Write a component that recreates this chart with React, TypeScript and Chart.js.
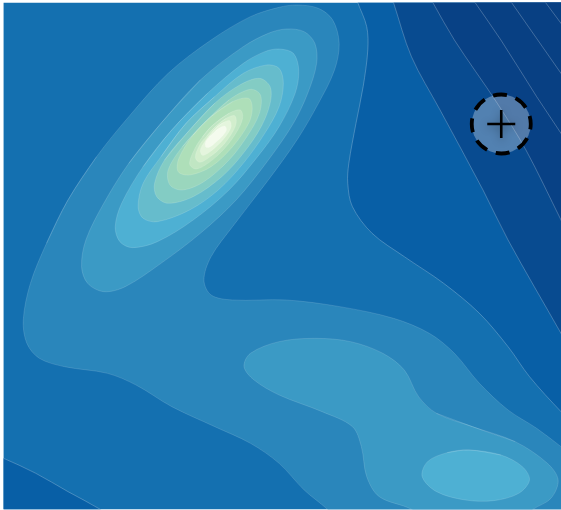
import React, { useEffect, useRef } from "react";
import { Chart, registerables } from "chart.js";

Chart.register(...registerables);

type P = [number, number];

const xRange: P = [10, 1568];
const yRange: P = [8, 1528];

const baseArea: P[] = [[-100, -100], [1800, -100], [1800, 1800], [-100, 1800]];
const cornerBL: P[] = [[-60, 1345], [10, 1375], [100, 1420], [190, 1475], [280, 1528], [350, 1580], [-100, 1800], [-60, 1345]];
const darkA: P[] = [[985, -40], [1000, 8], [1025, 80], [1028, 150], [1015, 260], [995, 370], [975, 490], [972, 550], [985, 620], [1040, 700], [1130, 770], [1240, 850], [1340, 940], [1420, 1040], [1480, 1130], [1568, 1235], [1640, 1310], [2400, 1500], [2400, -400], [985, -400], [985, -40]];
const darkB: P[] = [[1088, -30], [1100, 8], [1150, 170], [1230, 330], [1350, 570], [1420, 720], [1568, 1000], [1610, 1080], [2400, 1200], [2400, -400], [1088, -400], [1088, -30]];
const darkC: P[] = [[1190, -30], [1210, 8], [1270, 120], [1390, 310], [1470, 450], [1568, 660], [1610, 750], [2400, 800], [2400, -400], [1190, -400], [1190, -30]];
const darkD: P[] = [[1305, -30], [1328, 8], [1400, 120], [1500, 290], [1568, 400], [1620, 490], [2400, 500], [2400, -400], [1305, -400], [1305, -30]];
const darkE: P[] = [[1405, -30], [1430, 8], [1568, 220], [1620, 300], [2400, 300], [2400, -400], [1405, -400], [1405, -30]];
const darkF: P[] = [[1500, -30], [1525, 8], [1568, 70], [1620, 150], [2400, 150], [2400, -400], [1500, -400], [1500, -30]];

const band5: P[] = [[190, 600], [270, 470], [360, 350], [470, 220], [590, 120], [700, 50], [780, 22], [830, 15], [890, 25], [930, 60], [948, 130], [935, 210], [890, 310], [830, 420], [750, 540], [650, 680], [590, 770], [570, 840], [590, 885], [650, 900], [800, 900], [950, 920], [1100, 955], [1200, 1000], [1270, 1060], [1340, 1150], [1420, 1230], [1500, 1285], [1568, 1340], [1640, 1400], [1800, 1500], [1800, 1700], [1000, 1620], [915, 1528], [850, 1470], [780, 1390], [700, 1330], [600, 1280], [480, 1220], [380, 1155], [300, 1120], [180, 1100], [110, 1075], [75, 1030], [65, 960], [85, 850], [130, 730], [190, 600]];
const band6a: P[] = [[450, 370], [560, 240], [680, 140], [750, 100], [800, 87], [850, 95], [880, 130], [885, 190], [860, 280], [820, 370], [750, 480], [660, 600], [560, 700], [450, 790], [350, 860], [290, 875], [245, 850], [228, 800], [240, 720], [290, 610], [360, 490], [450, 370]];
const band6b: P[] = [[1320, 1280], [1440, 1325], [1530, 1390], [1560, 1440], [1540, 1495], [1490, 1528], [1430, 1580], [1230, 1590], [1150, 1528], [1060, 1490], [1025, 1430], [1010, 1340], [985, 1280], [900, 1235], [780, 1185], [710, 1140], [682, 1100], [700, 1060], [780, 1025], [880, 1015], [980, 1025], [1070, 1060], [1130, 1110], [1170, 1190], [1220, 1240], [1320, 1280]];
const band7a: P[] = [[480, 390], [580, 280], [680, 190], [740, 155], [780, 147], [820, 160], [835, 210], [825, 280], [780, 380], [720, 470], [640, 570], [540, 660], [440, 725], [370, 743], [335, 725], [322, 680], [340, 610], [400, 500], [480, 390]];
const band7b: P[] = [[1310, 1350], [1400, 1365], [1460, 1400], [1480, 1440], [1450, 1480], [1380, 1502], [1300, 1500], [1220, 1475], [1180, 1430], [1195, 1385], [1250, 1358], [1310, 1350]];
const band8: P[] = [[520, 370], [600, 290], [680, 220], [745, 195], [780, 205], [792, 250], [780, 320], [740, 400], [680, 490], [610, 570], [530, 630], [440, 665], [400, 655], [386, 620], [400, 550], [450, 470], [520, 370]];
const band9: P[] = [[530, 390], [600, 310], [670, 255], [725, 235], [755, 260], [755, 310], [730, 380], [680, 460], [620, 530], [540, 590], [470, 610], [438, 590], [432, 550], [460, 480], [530, 390]];
const band10: P[] = [[570, 370], [640, 300], [700, 268], [728, 285], [725, 340], [690, 410], [640, 480], [570, 545], [510, 570], [475, 555], [470, 510], [510, 440], [570, 370]];
const band11: P[] = [[590, 350], [650, 305], [695, 295], [705, 325], [695, 370], [650, 440], [590, 500], [530, 525], [498, 515], [500, 475], [540, 405], [590, 350]];
const band12: P[] = [[592, 378], [640, 340], [672, 330], [678, 355], [662, 395], [628, 445], [585, 487], [548, 507], [530, 492], [545, 445], [565, 412], [592, 378]];
const band13: P[] = [[600, 382], [632, 355], [656, 347], [660, 370], [645, 405], [620, 440], [585, 472], [558, 487], [546, 472], [558, 435], [578, 408], [600, 382]];
const band14: P[] = [[605, 382], [625, 367], [642, 362], [646, 380], [634, 405], [612, 432], [585, 457], [566, 466], [560, 450], [572, 425], [590, 400], [605, 382]];
const band15: P[] = [[596, 400], [612, 385], [628, 378], [633, 390], [622, 408], [605, 425], [588, 440], [576, 442], [574, 428], [584, 412], [596, 400]];

const layers: [P[], string][] = [
  [baseArea, "#1470b0"],
  [cornerBL, "#085fa6"],
  [darkA, "#085fa6"],
  [darkB, "#084b90"],
  [darkC, "#084185"],
  [darkD, "#084083"],
  [darkE, "#084083"],
  [darkF, "#084083"],
  [band5, "#2a86bb"],
  [band6a, "#3b9ac5"],
  [band6b, "#3b9ac5"],
  [band7a, "#4eb0d3"],
  [band7b, "#4eb0d3"],
  [band8, "#66bccc"],
  [band9, "#83ccc4"],
  [band10, "#9ad6bd"],
  [band11, "#aedfb9"],
  [band12, "#c0e6c3"],
  [band13, "#d2eecd"],
  [band14, "#e4f5dd"],
  [band15, "#f4fbee"],
];

const markerPoint: P[] = [[1401, 372]];

export default function App() {
  const ref = useRef<HTMLCanvasElement>(null);
  useEffect(() => {
    if (!ref.current) return;
    const datasets: any[] = layers.map(([pts, color], i) => {
      // repeat one point past each end, so the curve closes without a kink
      const closed = i >= 8;
      const path = closed ? [pts[pts.length - 2], ...pts, pts[1]] : pts;
      return {
        data: path.map(([x, y]) => ({ x, y })),
        showLine: true,
        pointRadius: 0,
        fill: "shape",
        backgroundColor: color,
        borderColor: i === 0 ? "transparent" : closed ? "rgba(255,255,255,0.22)" : "rgba(255,255,255,0.4)",
        borderWidth: i === 0 ? 0 : 0.6,
        tension: i === 0 ? 0 : 0.33,
        order: 100 - i,
      };
    });
    const ringIndex = datasets.length;
    datasets.push({
      data: markerPoint.map(([x, y]) => ({ x, y })),
      showLine: false,
      pointStyle: "circle",
      pointRadius: 29.5,
      pointBackgroundColor: "rgba(255,255,255,0.3)",
      pointBorderColor: "#000",
      pointBorderWidth: 3.8,
      order: 2,
    });
    const crossIndex = datasets.length;
    datasets.push({
      data: markerPoint.map(([x, y]) => ({ x, y })),
      showLine: false,
      pointStyle: "cross",
      pointRadius: 14,
      pointBorderColor: "#000",
      pointBorderWidth: 2.6,
      order: 1,
    });
    const markerStyle = {
      id: "markerStyle",
      beforeDatasetDraw(chart: any, args: any) {
        if (args.index === ringIndex) {
          chart.ctx.setLineDash([14, 9.17]);
          chart.ctx.lineDashOffset = 8.5;
        }
        if (args.index === crossIndex) {
          chart.ctx.shadowColor = "rgba(0,0,0,0.35)";
          chart.ctx.shadowBlur = 8;
          chart.ctx.shadowOffsetY = 2;
        }
      },
      afterDatasetDraw(chart: any, args: any) {
        if (args.index === ringIndex) {
          chart.ctx.setLineDash([]);
          chart.ctx.lineDashOffset = 0;
        }
        if (args.index === crossIndex) {
          chart.ctx.shadowColor = "transparent";
          chart.ctx.shadowBlur = 0;
          chart.ctx.shadowOffsetY = 0;
        }
      },
    };
    const chart = new Chart(ref.current, {
      type: "scatter",
      data: { datasets },
      plugins: [markerStyle],
      options: {
        animation: false,
        responsive: false,
        layout: { autoPadding: false, padding: { left: 3.58, top: 2.67, right: 0, bottom: 0.7 } },
        plugins: { legend: { display: false }, tooltip: { enabled: false } },
        scales: {
          x: { type: "linear", display: false, min: xRange[0], max: xRange[1] },
          y: { type: "linear", display: false, reverse: true, min: yRange[0], max: yRange[1] },
        },
      },
    } as any);
    return () => chart.destroy();
  }, []);
  return (
    <div style={{ position: "fixed", left: 0, top: 0, width: 561, height: 510, background: "#fff" }}>
      <canvas ref={ref} width={561} height={510} style={{ display: "block" }} />
    </div>
  );
}
